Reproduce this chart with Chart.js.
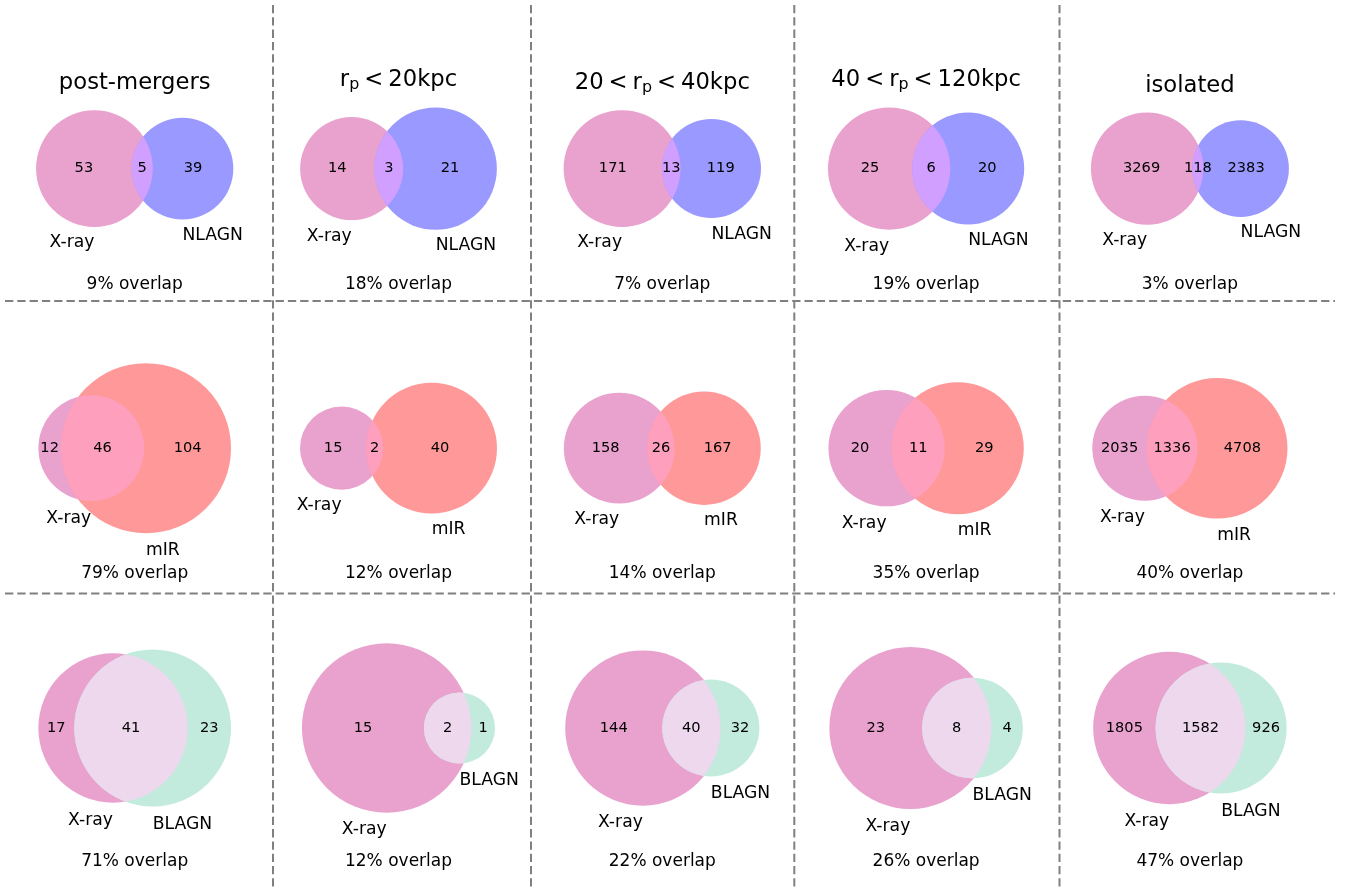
<!DOCTYPE html>
<html>
<head>
<meta charset="utf-8">
<script src="https://cdn.jsdelivr.net/npm/chart.js@4.4.0/dist/chart.umd.min.js"></script>
<style>
  html, body { margin: 0; padding: 0; background: #fff; }
  #venn { display: block; }
</style>
</head>
<body>
<canvas id="venn" width="1347" height="891"></canvas>
<script>
// one column per environment, one row per AGN selection compared with X-ray
const groupTitles = ['post-mergers', 'r_p < 20kpc', '20 < r_p < 40kpc', '40 < r_p < 120kpc', 'isolated'];
const firstSet = 'X-ray';
const secondSets = ['NLAGN', 'mIR', 'BLAGN'];

const xrayOnly = [
    [53, 14, 171, 25, 3269],
    [12, 15, 158, 20, 2035],
    [17, 15, 144, 23, 1805]
];
const shared = [
    [5, 3, 13, 6, 118],
    [46, 2, 26, 11, 1336],
    [41, 2, 40, 8, 1582]
];
const otherOnly = [
    [39, 21, 119, 20, 2383],
    [104, 40, 167, 29, 4708],
    [23, 1, 32, 4, 926]
];
const overlapPercent = [
    [9, 18, 7, 19, 3],
    [79, 12, 14, 35, 40],
    [71, 12, 22, 26, 47]
];

// colours: X-ray circle, second circle per row, and the mixed intersection
const xrayColor = '#e9a1ce';
const otherColors = ['#9999ff', '#ff9999', '#c2ebdd'];
const mixColors = ['#d19fff', '#ff9fbe', '#edd8ee'];

// figure layout (in canvas pixels)
const figW = 1347, figH = 891;
const panelW = 224, panelH = 232;
const colCenters = [134.7, 398.5, 662.3, 926.1, 1189.9];
const rowCenters = [168.6, 448.2, 728];
const overlapBaselines = [289.3, 578.3, 865.7];
const vLines = [273, 531, 794.3, 1059.5];
const hLines = [301, 593.5];

const FONT = '"DejaVu Sans", "Noto Sans", sans-serif';

function lensArea(r1, r2, d) {
    if (d >= r1 + r2) return 0;
    if (d <= Math.abs(r1 - r2)) return Math.PI * Math.min(r1, r2) ** 2;
    const a1 = r1 * r1 * Math.acos((d * d + r1 * r1 - r2 * r2) / (2 * d * r1));
    const a2 = r2 * r2 * Math.acos((d * d + r2 * r2 - r1 * r1) / (2 * d * r2));
    const k = 0.5 * Math.sqrt((-d + r1 + r2) * (d + r1 - r2) * (d - r1 + r2) * (d + r1 + r2));
    return a1 + a2 - k;
}

function distanceForArea(r1, r2, area) {
    let lo = Math.abs(r1 - r2), hi = r1 + r2;
    for (let i = 0; i < 80; i++) {
        const mid = (lo + hi) / 2;
        if (lensArea(r1, r2, mid) > area) lo = mid; else hi = mid;
    }
    return (lo + hi) / 2;
}

// area-proportional two-circle layout, fitted into the panel box
function panelLayout(row, col) {
    const a = xrayOnly[row][col], ab = shared[row][col], b = otherOnly[row][col];
    const total = a + ab + b;
    const rA = Math.sqrt((a + ab) / total / Math.PI);
    const rB = Math.sqrt((b + ab) / total / Math.PI);
    const d = distanceForArea(rA, rB, ab / total);
    const shift = rB * rB * d / (rA * rA + rB * rB);
    const xA = -shift, xB = d - shift;
    const minX = Math.min(xA - rA, xB - rB) - 0.1;
    const maxX = Math.max(xA + rA, xB + rB) + 0.1;
    const halfY = Math.max(rA, rB) + 0.1;
    const s = Math.min(panelW / (maxX - minX), panelH / (2 * halfY));
    const ox = colCenters[col] - (minX + maxX) / 2 * s;
    const cy = rowCenters[row];
    return {
        row: row, col: col,
        a: { x: ox + xA * s, y: cy, r: rA * s },
        b: { x: ox + xB * s, y: cy, r: rB * s },
        top: cy - halfY * s,
        pad: 0.05 * (rA + rB) * s
    };
}

const panels = [];
for (let r = 0; r < 3; r++) {
    for (let c = 0; c < 5; c++) panels.push(panelLayout(r, c));
}

function sizeToPx(chart, v) {
    const x = chart.scales.x;
    return Math.abs(x.getPixelForValue(v) - x.getPixelForValue(0));
}

const circleRadius = ctx => ctx.raw ? sizeToPx(ctx.chart, ctx.raw.r) : 0;

const datasets = [];

vLines.forEach(x => datasets.push({
    type: 'scatter', showLine: true, data: [{ x: x, y: 5 }, { x: x, y: 887 }],
    borderColor: '#808080', borderWidth: 2, borderDash: [8.3, 4], pointRadius: 0
}));
hLines.forEach(y => datasets.push({
    type: 'scatter', showLine: true, data: [{ x: 5, y: y }, { x: 1335, y: y }],
    borderColor: '#808080', borderWidth: 2, borderDash: [8.3, 4], pointRadius: 0
}));

datasets.push({
    label: secondSets.join('/'),
    data: panels.map(p => ({ x: p.b.x, y: p.b.y, r: p.b.r })),
    pointRadius: circleRadius,
    pointBackgroundColor: panels.map(p => otherColors[p.row]),
    pointBorderWidth: 0,
    pointBorderColor: 'rgba(0,0,0,0)'
});
datasets.push({
    label: firstSet,
    data: panels.map(p => ({ x: p.a.x, y: p.a.y, r: p.a.r })),
    pointRadius: circleRadius,
    pointBackgroundColor: xrayColor,
    pointBorderWidth: 0,
    pointBorderColor: 'rgba(0,0,0,0)'
});

// title with "_x" subscripts and narrower spaces around relations
function drawTitle(ctx, text, cx, baseline, size) {
    const pieces = [];
    text.split(/_(\w)/).forEach((t, i) => {
        if (i % 2 === 1) { pieces.push({ t: t, sub: true }); return; }
        t.split(' ').forEach((w, j) => {
            if (j > 0) pieces.push({ gap: size * 0.22 });
            if (w) pieces.push({ t: w, sub: false });
        });
    });
    let width = 0;
    pieces.forEach(p => {
        if (p.gap) { p.w = p.gap; } else {
            ctx.font = (p.sub ? size * 0.7 : size) + 'px ' + FONT;
            p.w = ctx.measureText(p.t).width;
        }
        width += p.w;
    });
    let x = cx - width / 2;
    ctx.textAlign = 'left';
    ctx.textBaseline = 'alphabetic';
    pieces.forEach(p => {
        if (!p.gap) {
            ctx.font = (p.sub ? size * 0.7 : size) + 'px ' + FONT;
            ctx.fillText(p.t, x, p.sub ? baseline + size * 0.12 : baseline);
        }
        x += p.w;
    });
}

const vennPlugin = {
    id: 'vennRegions',
    afterDatasetsDraw(chart) {
        const ctx = chart.ctx;
        const xs = chart.scales.x, ys = chart.scales.y;
        panels.forEach(p => {
            ctx.save();
            ctx.beginPath();
            ctx.arc(xs.getPixelForValue(p.a.x), ys.getPixelForValue(p.a.y), sizeToPx(chart, p.a.r), 0, Math.PI * 2);
            ctx.clip();
            ctx.beginPath();
            ctx.arc(xs.getPixelForValue(p.b.x), ys.getPixelForValue(p.b.y), sizeToPx(chart, p.b.r), 0, Math.PI * 2);
            ctx.fillStyle = mixColors[p.row];
            ctx.fill();
            ctx.restore();
        });
    },
    afterDraw(chart) {
        const ctx = chart.ctx;
        const xs = chart.scales.x, ys = chart.scales.y;
        ctx.save();
        ctx.fillStyle = '#000';
        panels.forEach(p => {
            const row = p.row, col = p.col;
            const cy = ys.getPixelForValue(p.a.y);

            // subset counts
            const xLeftA = p.a.x - p.a.r, xRightA = p.a.x + p.a.r;
            const xLeftB = p.b.x - p.b.r, xRightB = p.b.x + p.b.r;
            ctx.font = '14.6px ' + FONT;
            ctx.textAlign = 'center';
            ctx.textBaseline = 'middle';
            ctx.fillText(String(xrayOnly[row][col]), xs.getPixelForValue((xLeftA + xLeftB) / 2), cy);
            ctx.fillText(String(shared[row][col]), xs.getPixelForValue((xLeftB + xRightA) / 2), cy);
            ctx.fillText(String(otherOnly[row][col]), xs.getPixelForValue((xRightA + xRightB) / 2), cy);

            // set names under each circle
            ctx.font = '17.2px ' + FONT;
            ctx.textBaseline = 'alphabetic';
            ctx.textAlign = 'right';
            ctx.fillText(firstSet, xs.getPixelForValue(p.a.x), ys.getPixelForValue(p.a.y + p.a.r + p.pad) + 15);
            ctx.textAlign = 'left';
            ctx.fillText(secondSets[row], xs.getPixelForValue(p.b.x), ys.getPixelForValue(p.b.y + p.b.r + p.pad) + 15);

            // overlap fraction
            ctx.textAlign = 'center';
            ctx.font = '17px ' + FONT;
            ctx.fillText(overlapPercent[row][col] + '% overlap', xs.getPixelForValue(colCenters[col]), ys.getPixelForValue(overlapBaselines[row]));

            if (row === 0) {
                drawTitle(ctx, groupTitles[col], xs.getPixelForValue(colCenters[col]), ys.getPixelForValue(p.top) - 7.5, 22.7);
            }
        });
        ctx.restore();
    }
};

new Chart(document.getElementById('venn'), {
    type: 'scatter',
    data: { datasets: datasets },
    options: {
        responsive: false,
        devicePixelRatio: 1,
        animation: false,
        events: [],
        layout: { padding: 0 },
        plugins: { legend: { display: false }, tooltip: { enabled: false } },
        scales: {
            x: { type: 'linear', min: 0, max: figW, display: false },
            y: { type: 'linear', min: 0, max: figH, reverse: true, display: false }
        }
    },
    plugins: [vennPlugin]
});
</script>
</body>
</html>
